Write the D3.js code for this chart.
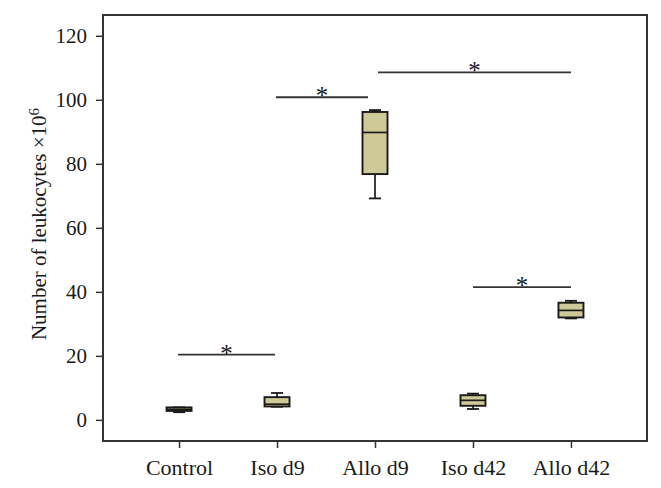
<!DOCTYPE html>
<html>
<head>
<meta charset="utf-8">
<script src="https://cdn.jsdelivr.net/npm/d3@7"></script>
<style>
  html, body { margin: 0; padding: 0; background: #fff; }
  svg { display: block; }
  text { font-family: "Liberation Serif", "DejaVu Serif", serif; fill: #1a1a1a; }
</style>
</head>
<body>
<svg id="chart" width="661" height="488"></svg>
<script>
// ---- data ----
const categories = ["Control", "Iso d9", "Allo d9", "Iso d42", "Allo d42"];
const whiskerLow  = [2.4, 4.1, 69.2, 3.4, 31.7];
const quartile1   = [2.8, 4.2, 76.8, 4.4, 32.0];
const medians     = [3.3, 4.9, 89.8, 6.1, 34.2];
const quartile3   = [3.9, 7.1, 96.2, 7.7, 36.6];
const whiskerHigh = [3.9, 8.4, 96.8, 8.2, 37.2];
const yTicks = [0, 20, 40, 60, 80, 100, 120];
// significance brackets: [from, to, height]
const bracketFrom = ["Control", "Iso d9", "Allo d9", "Iso d42"];
const bracketTo   = ["Iso d9", "Allo d9", "Allo d42", "Allo d42"];
const bracketY    = [20.4, 100.8, 108.6, 41.5];
const bracketMark = ["*", "*", "*", "*"];
const yTitle = "Number of leukocytes ×10";
const yTitleSup = "6";

// ---- layout ----
const svg = d3.select("#chart");
const mLeft = 103, mRight = 647, mTop = 15, mBottom = 441;
const x = d3.scalePoint().domain(categories).range([mLeft, mRight]).padding(0.776);
const y = d3.scaleLinear().domain([-6.6, 126.5]).range([mBottom, mTop]);

const boxW = 25, capW = 12;
const fill = "#cdca98";
const stroke = "#1a1a1a";

// frame
svg.append("rect")
  .attr("x", mLeft).attr("y", mTop)
  .attr("width", mRight - mLeft).attr("height", mBottom - mTop)
  .attr("fill", "none").attr("stroke", "#333").attr("stroke-width", 2);

// y axis
const yAxis = d3.axisLeft(y).tickValues(yTicks).tickSize(7).tickPadding(9).tickFormat(d3.format("d"));
const gy = svg.append("g").attr("transform", `translate(${mLeft},0)`).call(yAxis);
gy.select(".domain").remove();
gy.selectAll(".tick line").attr("stroke", "#333").attr("stroke-width", 1.5);
gy.selectAll(".tick text").style("font-size", "21px").attr("fill", "#1a1a1a")
  .style("font-family", "'Liberation Serif', serif");

// x axis
const xAxis = d3.axisBottom(x).tickSize(7).tickPadding(8);
const gx = svg.append("g").attr("transform", `translate(0,${mBottom})`).call(xAxis);
gx.select(".domain").remove();
gx.selectAll(".tick line").attr("stroke", "#333").attr("stroke-width", 1.5);
gx.selectAll(".tick text").style("font-size", "22px").attr("fill", "#1a1a1a")
  .style("font-family", "'Liberation Serif', serif")
  .attr("y", 0).attr("dy", null).attr("transform", "translate(0,34)");

// y title
const yt = svg.append("text")
  .attr("transform", `translate(46,${(111 + 337) / 2}) rotate(-90)`)
  .attr("text-anchor", "middle")
  .style("font-size", "21px");
yt.append("tspan").text(yTitle);
yt.append("tspan").text(yTitleSup).attr("dy", "-0.45em").style("font-size", "15px");

// boxes
const boxes = categories.map((c, i) => ({
  c, lo: whiskerLow[i], q1: quartile1[i], med: medians[i], q3: quartile3[i], hi: whiskerHigh[i]
}));
const g = svg.append("g").selectAll("g").data(boxes).join("g")
  .attr("transform", d => `translate(${x(d.c)},0)`);

// whiskers
g.append("line").attr("x1", 0).attr("x2", 0)
  .attr("y1", d => y(d.hi)).attr("y2", d => y(d.q3))
  .attr("stroke", stroke).attr("stroke-width", 1.7);
g.append("line").attr("x1", 0).attr("x2", 0)
  .attr("y1", d => y(d.q1)).attr("y2", d => y(d.lo))
  .attr("stroke", stroke).attr("stroke-width", 1.7);
g.append("line").attr("x1", -capW / 2).attr("x2", capW / 2)
  .attr("y1", d => y(d.hi)).attr("y2", d => y(d.hi))
  .attr("stroke", stroke).attr("stroke-width", 1.8);
g.append("line").attr("x1", -capW / 2).attr("x2", capW / 2)
  .attr("y1", d => y(d.lo)).attr("y2", d => y(d.lo))
  .attr("stroke", stroke).attr("stroke-width", 1.8);
// box
g.append("rect")
  .attr("x", -boxW / 2).attr("width", boxW)
  .attr("y", d => y(d.q3)).attr("height", d => y(d.q1) - y(d.q3))
  .attr("fill", fill).attr("stroke", stroke).attr("stroke-width", 1.9);
// median
g.append("line").attr("x1", -boxW / 2).attr("x2", boxW / 2)
  .attr("y1", d => y(d.med)).attr("y2", d => y(d.med))
  .attr("stroke", stroke).attr("stroke-width", 1.7);

// significance brackets
const insetFrom = [-1, -1, 3, 0];
const insetTo = [-2, -7, 0, 0];
const br = svg.append("g").selectAll("g").data(bracketY.map((v, i) => ({
  a: x(bracketFrom[i]) + insetFrom[i], b: x(bracketTo[i]) + insetTo[i], v, m: bracketMark[i]
}))).join("g");
br.append("line")
  .attr("x1", d => d.a).attr("x2", d => d.b)
  .attr("y1", d => y(d.v)).attr("y2", d => y(d.v))
  .attr("stroke", "#333").attr("stroke-width", 1.8);
br.append("text")
  .attr("x", d => (d.a + d.b) / 2)
  .attr("y", d => y(d.v) + 7)
  .attr("text-anchor", "middle")
  .style("font-size", "25px")
  .text(d => d.m);
</script>
</body>
</html>
